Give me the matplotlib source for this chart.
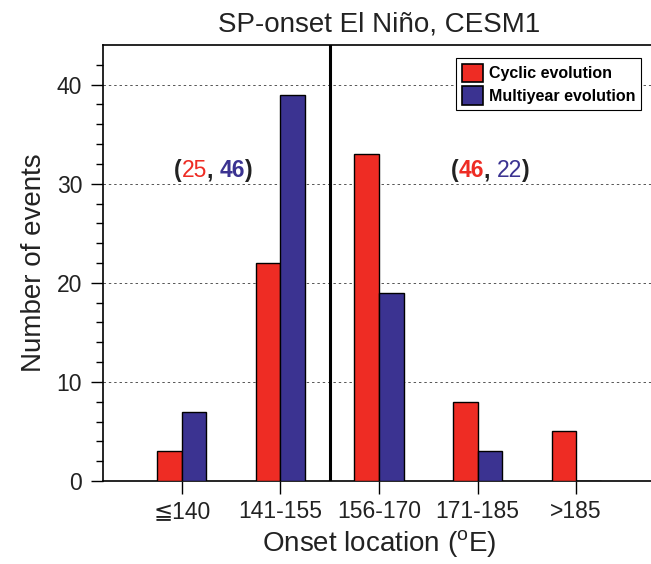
import matplotlib.pyplot as plt
from matplotlib.offsetbox import TextArea, HPacker, AnnotationBbox
from matplotlib.patches import Patch

plt.rcParams['font.family'] = ['Liberation Sans', 'DejaVu Sans']

# data
categories = ["\u2266140", "141-155", "156-170", "171-185", ">185"]
cyclic = [3, 22, 33, 8, 5]
multiyear = [7, 39, 19, 3, 0]
red = "#ee2c24"
blue = "#3b3391"

fig = plt.figure(figsize=(6.51, 5.64), dpi=100)
ax = fig.add_axes([103/651, 83/564, 552/651, 436/564])

x = list(range(1, len(categories) + 1))
w = 0.25
ax.bar([i - w/2 for i in x], cyclic, w, color=red, edgecolor="black", linewidth=1.0, zorder=3)
ax.bar([i + w/2 for i in x], multiyear, w, color=blue, edgecolor="black", linewidth=1.0, zorder=3)

ax.axvline(2.5, color="black", linewidth=2.2, zorder=4)

for yv in [10, 20, 30, 40]:
    ax.axhline(yv, color="#555555", linewidth=0.7, linestyle=(0, (2.5, 3)), zorder=1)

ax.set_xlim(0.2, 5.8)
ax.set_ylim(0, 44)
ax.set_xticks(x)
ax.set_xticklabels(categories, fontsize=16.5, color="#222222")
ax.set_yticks([0, 10, 20, 30, 40])
ax.set_yticks(range(0, 44, 2), minor=True)
ax.tick_params(axis="y", which="major", direction="out", length=9, width=1, labelsize=16.5, pad=6,
               labelcolor="#222222")
ax.tick_params(axis="y", which="minor", direction="out", length=5, width=1)
ax.tick_params(axis="x", which="major", direction="out", length=9, width=1, pad=5)
for s in ax.spines.values():
    s.set_linewidth(1.2)

ax.set_title("SP-onset El Niño, CESM1", fontsize=20, pad=10, color="#222222")
ax.set_ylabel("Number of events", fontsize=20, labelpad=7, color="#222222")
ax.set_xlabel("Onset location ($\\mathregular{^o}$E)", fontsize=20, labelpad=3, color="#222222")

# counts annotations
def counts_label(xpos, ypos, parts):
    areas = [TextArea(t, textprops=dict(color=c, fontsize=16.5, fontweight=fw)) for t, c, fw in parts]
    box = HPacker(children=areas, align="baseline", pad=0, sep=0)
    ab = AnnotationBbox(box, (xpos, ypos), xycoords="data", frameon=False, zorder=5)
    ax.add_artist(ab)

counts_label(1.32, 31.3, [("(", "#222222", "bold"), ("25", red, "normal"), (", ", "#222222", "bold"),
                          ("46", blue, "bold"), (")", "#222222", "bold")])
counts_label(4.13, 31.3, [("(", "#222222", "bold"), ("46", red, "bold"), (", ", "#222222", "bold"),
                          ("22", blue, "normal"), (")", "#222222", "bold")])

handles = [Patch(facecolor=red, edgecolor="black", linewidth=1.2, label="Cyclic evolution"),
           Patch(facecolor=blue, edgecolor="black", linewidth=1.2, label="Multiyear evolution")]
leg = ax.legend(handles=handles, loc="upper right", bbox_to_anchor=(0.975, 0.97),
                prop=dict(size=11.5, weight="bold"), fancybox=False, edgecolor="black",
                framealpha=1, handlelength=1.3, handleheight=1.4, handletextpad=0.4,
                borderpad=0.35, labelspacing=0.25, borderaxespad=0)
leg.get_frame().set_linewidth(0.8)

fig.savefig("out.png", dpi=100)
